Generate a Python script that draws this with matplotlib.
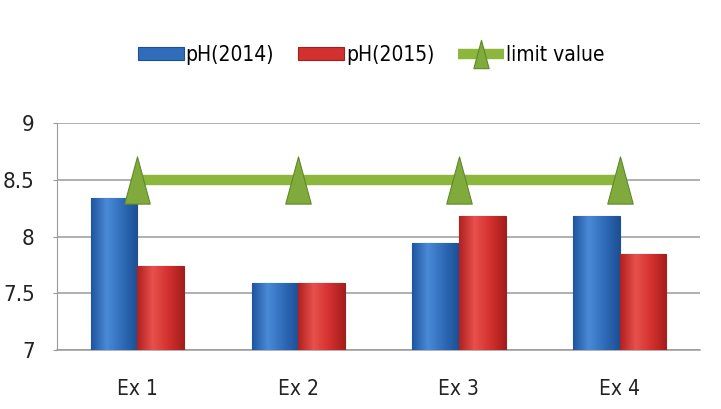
import numpy as np
import matplotlib.pyplot as plt
from matplotlib.path import Path
from matplotlib.colors import LinearSegmentedColormap

categories = ['Ex 1', 'Ex 2', 'Ex 3', 'Ex 4']
ph_2014 = [8.34, 7.59, 7.94, 8.18]
ph_2015 = [7.74, 7.59, 8.18, 7.85]
limit_value = [8.5, 8.5, 8.5, 8.5]
y_ticks = [7, 7.5, 8, 8.5, 9]
y_labels = ['7', '7.5', '8', '8.5', '9']

plt.rcParams['font.family'] = ['DejaVu Sans']
plt.rcParams['font.stretch'] = 'condensed'

fig = plt.figure(figsize=(7.21, 4.09), dpi=100)
ax = fig.add_axes([0.079, 0.1443, 0.892, 0.5542])

x = np.arange(len(categories))
w = 0.29
b1 = ax.bar(x - w / 2, ph_2014, w, color='#2f6cb9', edgecolor='#1f4f8f',
            linewidth=0.8, label='pH(2014)', zorder=3)
b2 = ax.bar(x + w / 2, ph_2015, w, color='#d3312f', edgecolor='#9c2220',
            linewidth=0.8, label='pH(2015)', zorder=3)

# shaded fill on each bar, darker at the sides
shades = {'#2f6cb9': ['#1f55a0', '#4a8ad6', '#2f6cb9', '#1d4f94'],
          '#d3312f': ['#b0211f', '#e8504c', '#d3312f', '#a51e1c']}
for bars, c in [(b1, '#2f6cb9'), (b2, '#d3312f')]:
    cmap = LinearSegmentedColormap.from_list('g', shades[c])
    grad = np.linspace(0, 1, 64).reshape(1, -1)
    for r in bars:
        x0, y0 = r.get_x(), r.get_y()
        im = ax.imshow(grad, cmap=cmap, aspect='auto', zorder=3.5,
                       extent=(x0, x0 + r.get_width(), 7, y0 + r.get_height()))
        im.set_clip_path(r)

# tall narrow triangle for the limit markers
tri = Path([(-0.54, -1), (0.54, -1), (0, 1), (-0.54, -1)],
           [Path.MOVETO, Path.LINETO, Path.LINETO, Path.CLOSEPOLY])
ln, = ax.plot(x, limit_value, color='#8cb63c', linewidth=7.5, marker=tri,
              markersize=34, markerfacecolor='#80aa3c',
              markeredgecolor='#5e8a2a', markeredgewidth=0.8,
              solid_capstyle='butt', label='limit value', zorder=4)

ax.set_xlim(-0.5, 3.5)
ax.set_ylim(7, 9)
ax.set_yticks(y_ticks)
ax.set_yticklabels(y_labels)
ax.set_xticks(x)
ax.set_xticklabels(categories)
ax.tick_params(axis='x', length=0, pad=21, labelsize=15, colors='#222222')
ax.tick_params(axis='y', length=3, color='#9a9a9a', pad=13, labelsize=16,
               colors='#222222')
ax.grid(axis='y', color='#9a9a9a', linewidth=1.1, zorder=0)
for s in ['top', 'right']:
    ax.spines[s].set_visible(False)
ax.spines['left'].set_color('#9a9a9a')
ax.spines['bottom'].set_color('#9a9a9a')
ax.spines['bottom'].set_linewidth(1.1)

leg = fig.legend([b1, b2, ln], ['pH(2014)', 'pH(2015)', 'limit value'],
                 loc='center', bbox_to_anchor=(0.515, 0.866), ncol=3,
                 frameon=False, fontsize=15, handlelength=2.2,
                 handleheight=0.6, handletextpad=0.1, columnspacing=1.15,
                 markerscale=0.6)

fig.savefig('out.png', dpi=100)
